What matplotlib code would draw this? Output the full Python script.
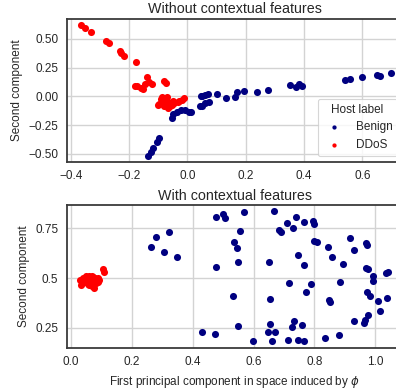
import matplotlib
matplotlib.use("Agg")
import matplotlib.pyplot as plt

# ---- Data: without contextual features ----
top_ddos_x = [-0.364, -0.35, -0.329, -0.278, -0.27, -0.232, -0.229, -0.218, -0.177,
              -0.1375, -0.131, -0.144, -0.122, -0.174, -0.16, -0.151, -0.18,
              -0.082, -0.073, -0.088, -0.077, -0.096, -0.082, -0.065, -0.05, -0.034,
              -0.019, -0.013, -0.065, -0.071, -0.054, -0.09, -0.085, -0.06, -0.045,
              -0.028, -0.1]
top_ddos_y = [0.62, 0.598, 0.558, 0.482, 0.462, 0.395, 0.375, 0.349, 0.302,
              0.166, 0.128, 0.11, 0.11, 0.087, 0.075, 0.064, 0.092,
              0.133, 0.113, -0.003, -0.041, -0.07, -0.082, -0.052, -0.041, -0.052,
              -0.032, -0.017, -0.1, -0.003, -0.076, -0.02, -0.06, -0.085, -0.06,
              -0.04, -0.075]
top_benign_x = [-0.054, -0.048, -0.036, -0.022, -0.008, 0.004, 0.012,
                -0.096, -0.105, -0.117, -0.124, -0.134,
                0.043, 0.05, 0.06, 0.075, 0.049, 0.06, 0.072, 0.047,
                0.102, 0.133, 0.162, 0.169, 0.194, 0.24, 0.277,
                0.352, 0.372, 0.384, 0.392, 0.54, 0.557, 0.597, 0.649, 0.66, 0.697]
top_benign_y = [-0.187, -0.157, -0.134, -0.117, -0.119, -0.134, -0.14,
                -0.366, -0.396, -0.448, -0.483, -0.518,
                -0.085, -0.08, -0.061, -0.05, 0.005, 0.014, 0.017, 0.005,
                0.017, -0.015, -0.003, 0.04, 0.049, 0.035, 0.055,
                0.099, 0.078, 0.107, 0.092, 0.142, 0.148, 0.171, 0.186, 0.18, 0.2]

# ---- Data: with contextual features ----
bot_ddos_x = [0.104, 0.109, 0.03, 0.033, 0.076, 0.093, 0.04, 0.045, 0.05, 0.055,
              0.06, 0.065, 0.07, 0.075, 0.08, 0.085, 0.09, 0.035, 0.042, 0.048,
              0.053, 0.058, 0.063, 0.068, 0.072, 0.078, 0.083, 0.088, 0.06, 0.07]
bot_ddos_y = [0.545, 0.528, 0.49, 0.465, 0.448, 0.49, 0.5, 0.48, 0.51, 0.47,
              0.5, 0.48, 0.51, 0.47, 0.5, 0.49, 0.48, 0.475, 0.485, 0.495,
              0.505, 0.465, 0.49, 0.46, 0.505, 0.485, 0.475, 0.5, 0.51, 0.49]
bot_benign_x = [0.262, 0.281, 0.322, 0.306, 0.349, 0.478, 0.499, 0.505, 0.57, 0.554,
                0.535, 0.545, 0.549, 0.475, 0.532, 0.549, 0.432, 0.473, 0.598,
                0.667, 0.74, 0.71, 0.765, 0.794, 0.8, 0.729, 0.685, 0.689, 0.8,
                0.809, 0.844, 0.918, 0.931, 0.97, 0.972, 0.745, 0.858, 0.651, 0.767,
                0.895, 0.97, 0.977, 0.991, 0.991, 1.035, 1.043, 0.717, 0.789, 0.773,
                0.883, 0.653, 0.849, 0.852, 0.973, 0.984, 1.01, 1.038, 1.014, 0.975,
                0.966, 0.962, 0.929, 0.732, 0.726, 0.758, 0.653, 0.649, 0.669, 0.662,
                0.712, 0.745, 0.765, 0.835, 0.882]
bot_benign_y = [0.657, 0.708, 0.73, 0.629, 0.607, 0.805, 0.82, 0.8, 0.83, 0.738,
                0.68, 0.652, 0.582, 0.555, 0.409, 0.26, 0.23, 0.218, 0.183,
                0.837, 0.808, 0.778, 0.78, 0.788, 0.77, 0.75, 0.741, 0.73, 0.686,
                0.683, 0.654, 0.7, 0.641, 0.675, 0.667, 0.616, 0.604, 0.582, 0.565,
                0.572, 0.549, 0.544, 0.511, 0.486, 0.527, 0.532, 0.476, 0.468, 0.431,
                0.48, 0.393, 0.389, 0.378, 0.428, 0.409, 0.386, 0.398, 0.334, 0.314,
                0.289, 0.272, 0.285, 0.285, 0.255, 0.263, 0.267, 0.23, 0.228, 0.183,
                0.19, 0.19, 0.185, 0.196, 0.213]

labels = ["Benign", "DDoS"]
colors = ["#000080", "#ff0000"]
top_xticks = [-0.4, -0.2, 0.0, 0.2, 0.4, 0.6]
top_xticklabels = ["\u22120.4", "\u22120.2", "0.0", "0.2", "0.4", "0.6"]
top_yticks = [-0.5, -0.25, 0.0, 0.25, 0.5]
top_yticklabels = ["\u22120.50", "\u22120.25", "0.00", "0.25", "0.50"]
bot_xticks = [0.0, 0.2, 0.4, 0.6, 0.8, 1.0]
bot_xticklabels = ["0.0", "0.2", "0.4", "0.6", "0.8", "1.0"]
bot_yticks = [0.25, 0.5, 0.75]
bot_yticklabels = ["0.25", "0.5", "0.75"]

plt.rcParams["font.family"] = ["Liberation Sans", "DejaVu Sans"]
plt.rcParams["mathtext.fontset"] = "dejavusans"
fig = plt.figure(figsize=(3.96, 3.9), dpi=100)
W = (403 - 66.7) / 396
ax1 = fig.add_axes([66.7 / 396, 0.5846, W, 0.3667])
ax2 = fig.add_axes([66.7 / 396, 0.1085, W, 0.3655])

TXT = "#262626"

def style(ax):
    ax.set_facecolor("white")
    ax.grid(True, color="#d3d3d3", linewidth=1.0)
    ax.set_axisbelow(True)
    for s in ax.spines.values():
        s.set_color("#3a3a3a")
        s.set_linewidth(1.3)
    ax.tick_params(length=0, pad=6, labelsize=8.5, colors=TXT)

s = 26
ax1.scatter(top_benign_x, top_benign_y, s=s, c=colors[0], linewidths=0, label=labels[0])
ax1.scatter(top_ddos_x, top_ddos_y, s=s, c=colors[1], linewidths=0, label=labels[1])
ax2.scatter(bot_benign_x, bot_benign_y, s=s, c=colors[0], linewidths=0)
ax2.scatter(bot_ddos_x, bot_ddos_y, s=s, c=colors[1], linewidths=0)

for ax in (ax1, ax2):
    style(ax)

ax1.set_xlim(-0.414, 0.739)
ax1.set_ylim(-0.572, 0.674)
ax1.set_xticks(top_xticks)
ax1.set_xticklabels(top_xticklabels)
ax1.set_yticks(top_yticks)
ax1.set_yticklabels(top_yticklabels)
ax1.set_title("Without contextual features", fontsize=10.3, pad=4, color=TXT)
ax1.set_ylabel("Second component", fontsize=8.5, color=TXT)

ax2.set_xlim(-0.014, 1.091)
ax2.set_ylim(0.149, 0.867)
ax2.set_xticks(bot_xticks)
ax2.set_xticklabels(bot_xticklabels)
ax2.set_yticks(bot_yticks)
ax2.set_yticklabels(bot_yticklabels)
ax2.set_title("With contextual features", fontsize=10.3, pad=4, color=TXT)
ax2.set_ylabel("Second component", fontsize=8.5, color=TXT)
ax2.set_xlabel("First principal component in space induced by $\\phi$", fontsize=8.5, color=TXT)

leg = ax1.legend(title="Host label", loc="lower right", fontsize=8.5, title_fontsize=8.5,
                 markerscale=0.6, frameon=True)
leg.get_frame().set_edgecolor("#cccccc")
leg.get_frame().set_linewidth(0.8)
for t in leg.get_texts():
    t.set_color(TXT)
leg.get_title().set_color(TXT)

fig.savefig("out.png", dpi=100)
